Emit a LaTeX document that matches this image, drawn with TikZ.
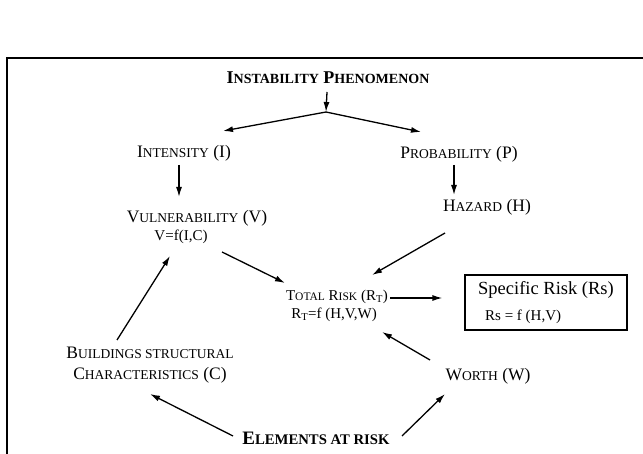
\documentclass[tikz,border=0pt]{standalone}
\usepackage{fontspec}
\setmainfont{Liberation Serif}
\usetikzlibrary{arrows.meta}

% fake small caps: capitals in the normal size, the rest smaller
\newcommand{\lo}[1]{{\fontsize{13.5}{16}\selectfont #1}}
\newcommand{\lot}[1]{{\fontsize{11.5}{14}\selectfont #1}}
\newcommand{\lob}[1]{{\fontsize{14.7}{17}\selectfont #1}}

\begin{document}
\begin{tikzpicture}[x=1pt,y=-1pt,
    lbl/.style={inner sep=0pt, font=\fontsize{17.5}{21}\selectfont},
    fml/.style={inner sep=0pt, font=\fontsize{15}{18}\selectfont},
    arr/.style={-{Latex[length=10pt,width=6pt]}, line width=1.3pt}]
    \useasboundingbox (0,0) rectangle (643,454);
    % frame of the figure
    \draw[line width=1.4pt] (643,58) -- (7,58) -- (7,454);

    \node[lbl, font=\fontsize{18}{21}\selectfont\bfseries] (inst) at (328,78) {I{\fontsize{14}{17}\selectfont NSTABILITY} P{\fontsize{14}{17}\selectfont HENOMENON}};
    \coordinate (fork) at (326,112);
    \node[lbl] (int) at (184,153) {I\lo{NTENSITY} (I)};
    \node[lbl] (prob) at (459,154) {P\lo{ROBABILITY} (P)};
    \node[lbl] (vul) at (197,218) {V\lo{ULNERABILITY} (V)};
    \node[fml] (vulf) at (181,237) {V=f(I,C)};
    \node[lbl] (haz) at (487,207) {H\lo{AZARD} (H)};
    \node[lbl, font=\fontsize{15}{18}\selectfont] (tot) at (337,297) {T\lot{OTAL} R\lot{ISK} (R\textsubscript{T})};
    \node[fml] (totf) at (334,315) {R\textsubscript{T}=f (H,V,W)};
    \node[draw, line width=1.2pt, minimum width=162pt, minimum height=55pt,
          align=left, font=\fontsize{18.5}{26}\selectfont] (spec) at (546,302.5)
          {Specific Risk (Rs)\\\hspace*{7pt}{\fontsize{15}{18}\selectfont Rs = f (H,V)}};
    \node[lbl, align=center] (bld) at (150,365) {B\lo{UILDINGS STRUCTURAL}\\C\lo{HARACTERISTICS} (C)};
    \node[lbl] (wor) at (488,376) {W\lo{ORTH} (W)};
    \node[lbl, font=\fontsize{19}{22}\selectfont\bfseries] (elem) at (316,438) {E\lob{LEMENTS AT RISK}};

    \draw[arr] ([shift={(-1,14)}]inst.center) -- (fork);
    \draw[arr] (fork) -- ([shift={(39,-22)}]int.center);
    \draw[arr] (fork) -- ([shift={(-38,-22)}]prob.center);
    \draw[arr] ([shift={(-5,12)}]int.center) -- ([shift={(-18,-21)}]vul.center);
    \draw[arr] ([shift={(-5,11)}]prob.center) -- ([shift={(-33,-12)}]haz.center);
    \draw[arr] ([shift={(41,15)}]vulf.center) -- ([shift={(-52,-14)}]tot.center);
    \draw[arr] ([shift={(-42,26)}]haz.center) -- ([shift={(35,-22)}]tot.center);
    \draw[arr] ([shift={(-33,-25)}]bld.center) -- ([shift={(-11,19)}]vulf.center);
    \draw[arr] ([shift={(53,1)}]tot.center) -- ([shift={(-22,-4.5)}]spec.west);
    \draw[arr] ([shift={(-58,-16)}]wor.center) -- ([shift={(48,17)}]totf.center);
    \draw[arr] ([shift={(-83,-2)}]elem.center) -- ([shift={(0,29)}]bld.center);
    \draw[arr] ([shift={(86,-2)}]elem.center) -- ([shift={(-43,18)}]wor.center);
\end{tikzpicture}
\end{document}
